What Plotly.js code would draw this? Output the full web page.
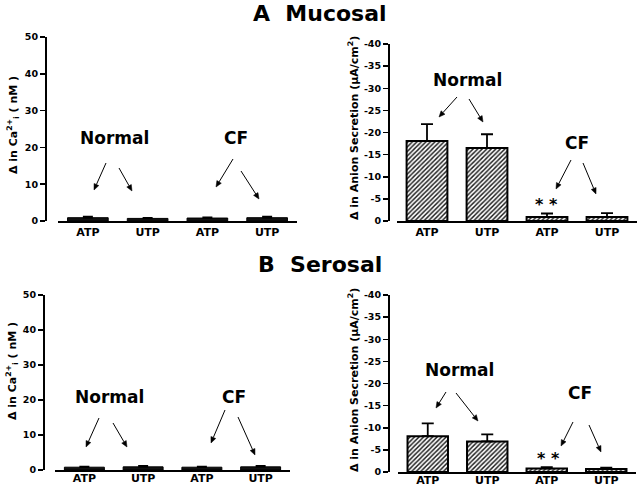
<!DOCTYPE html>
<html>
<head>
<meta charset="utf-8">
<script src="https://cdn.plot.ly/plotly-3.0.1.min.js"></script>
<style>html,body{margin:0;padding:0;background:#fff;}#chart{width:640px;height:488px;}</style>
</head>
<body>
<div id="chart"></div>
<script>
// ---- Data ----
const positions = [0, 1, 2, 3];
const tickLabels = ['ATP', 'UTP', 'ATP', 'UTP'];
const groups = ['Normal', 'Normal', 'CF', 'CF'];

// Change in intracellular Ca2+ (nM)
const caMucosal = [0.9, 0.7, 0.8, 0.9];
const caMucosalErr = [0.3, 0.2, 0.2, 0.3];
const caSerosal = [0.8, 0.9, 0.8, 0.9];
const caSerosalErr = [0.2, 0.3, 0.2, 0.3];

// Change in anion secretion (uA/cm2), negative currents
const iscMucosal = [-18.1, -16.5, -0.9, -0.9];
const iscMucosalErr = [3.8, 3.1, 0.8, 0.9];
const iscSerosal = [-8.1, -6.9, -0.8, -0.7];
const iscSerosalErr = [2.9, 1.6, 0.3, 0.3];

const caTicks = [0, 10, 20, 30, 40, 50];
const iscTicks = [0, -5, -10, -15, -20, -25, -30, -35, -40];
const iscTickText = ['0', '-5', '-10', '-15', '-20', '-25', '-30', '-35', '-40'];

// ---- helpers ----
const W = 640, H = 488;
const px = x => x / W;
const py = y => 1 - y / H;
const FONT = 'DejaVu Sans, Arial, sans-serif';

function caTrace(vals, errs, xa, ya) {
  return {
    type: 'bar', x: positions, y: vals, xaxis: xa, yaxis: ya, width: 0.68,
    marker: {color: '#111', line: {color: '#000', width: 1}},
    error_y: {type: 'data', symmetric: false, array: errs, arrayminus: errs.map(() => 0),
              color: '#000', thickness: 1.5, width: 5},
    hoverinfo: 'y', showlegend: false
  };
}
function iscTrace(vals, errs, xa, ya) {
  return {
    type: 'bar', x: positions, y: vals, xaxis: xa, yaxis: ya, width: 0.68,
    marker: {color: 'white', line: {color: '#000', width: 2},
             pattern: {shape: '/', fgcolor: '#1a1a1a', bgcolor: 'white', size: 3.2, solidity: 0.45}},
    error_y: {type: 'data', symmetric: false, array: errs.map(() => 0), arrayminus: errs,
              color: '#000', thickness: 1.8, width: 6},
    hoverinfo: 'y', showlegend: false
  };
}

const data = [
  caTrace(caMucosal, caMucosalErr, 'x', 'y'),
  iscTrace(iscMucosal, iscMucosalErr, 'x2', 'y2'),
  caTrace(caSerosal, caSerosalErr, 'x3', 'y3'),
  iscTrace(iscSerosal, iscSerosalErr, 'x4', 'y4')
];

function xAxis(domain, anchor, standoff) {
  return {
    domain: domain, anchor: anchor, range: [-0.5, 3.5],
    tickvals: positions, ticktext: tickLabels, ticks: '', showgrid: false, zeroline: false,
    showline: true, linecolor: '#000', linewidth: 2, ticklabelstandoff: standoff,
    tickfont: {family: FONT, size: 11, color: '#000', weight: 'bold'}, fixedrange: true
  };
}
function yAxis(domain, pos, range, tickvals, ticktext) {
  return {
    domain: domain, anchor: 'free', position: pos, range: range,
    tickvals: tickvals, ticktext: ticktext, ticks: 'outside', ticklen: 5, tickwidth: 1.5,
    tickcolor: '#000', showgrid: false, zeroline: false,
    showline: true, linecolor: '#000', linewidth: 1.5,
    tickfont: {family: FONT, size: 9.5, color: '#000', weight: 'bold'}, fixedrange: true
  };
}

const annotations = [];
const shapes = [];
function txt(t, x, y, size, angle) {
  annotations.push({xref: 'paper', yref: 'paper', x: px(x), y: py(y), text: t, showarrow: false,
    xanchor: 'center', yanchor: 'middle', textangle: angle || 0,
    font: {family: FONT, size: size, color: '#000', weight: 'bold'}});
}
function arrow(tx, ty, hx, hy) {
  const dx = hx - tx, dy = hy - ty, L = Math.hypot(dx, dy);
  const ux = dx / L, uy = dy / L;
  const hl = 6, hw = 2.6;
  const bx = hx - ux * hl, by = hy - uy * hl;
  shapes.push({type: 'line', xref: 'paper', yref: 'paper',
    x0: px(tx), y0: py(ty), x1: px(bx), y1: py(by), line: {color: '#000', width: 1}});
  const p1x = bx - uy * hw, p1y = by + ux * hw;
  const p2x = bx + uy * hw, p2y = by - ux * hw;
  shapes.push({type: 'path', xref: 'paper', yref: 'paper',
    path: `M ${px(hx)} ${py(hy)} L ${px(p1x)} ${py(p1y)} L ${px(p2x)} ${py(p2y)} Z`,
    fillcolor: '#000', line: {color: '#000', width: 0.5}});
}

// titles
txt('A  Mucosal', 320, 13, 22);
txt('B  Serosal', 320, 264, 22);

// y titles
const caTitle = 'Δ in Ca<sup>2+</sup><sub>i</sub> ( nM )';
const iscTitle = 'Δ in Anion Secretion (μA/cm<sup>2</sup>)';
txt(caTitle, 13, 125, 11, -90);
txt(caTitle, 12, 371, 11, -90);
txt(iscTitle, 353, 128, 11, -90);
txt(iscTitle, 353, 380, 11, -90);

// top-left
txt('Normal', 114, 138, 17); txt('CF', 236, 138, 17);
arrow(106, 163, 94, 190); arrow(119, 168, 132, 191);
arrow(233, 159, 216, 187); arrow(241, 171, 259, 199);
// top-right
txt('Normal', 467, 80, 17); txt('CF', 577, 143, 17);
arrow(457, 97, 439, 117); arrow(469, 99, 483, 122);
arrow(571, 160, 556, 189); arrow(583, 163, 596, 194);
txt('* *', 546, 204, 16);
// bottom-left
txt('Normal', 109, 397, 17); txt('CF', 234, 397, 17);
arrow(99, 418, 86, 447); arrow(113, 423, 127, 447);
arrow(225, 410, 211, 443); arrow(238, 417, 255, 455);
// bottom-right
txt('Normal', 459, 370, 17); txt('CF', 580, 393, 17);
arrow(446, 392, 436, 408); arrow(456, 393, 478, 421);
arrow(573, 422, 561, 446); arrow(589, 425, 601, 452);
txt('* *', 548, 458, 16);

const layout = {
  width: W, height: H, margin: {l: 0, r: 0, t: 0, b: 0},
  paper_bgcolor: '#fff', plot_bgcolor: 'rgba(0,0,0,0)', showlegend: false, bargap: 0,
  xaxis: xAxis([px(58), px(297)], 'y', 0),
  yaxis: yAxis([py(221), py(37)], px(45), [0, 50], caTicks, caTicks.map(String)),
  xaxis2: xAxis([px(397), px(637)], 'y2', 0),
  yaxis2: yAxis([py(221), py(44)], px(388), [0, -40], iscTicks, iscTickText),
  xaxis3: xAxis([px(55), px(290)], 'y3', -3),
  yaxis3: yAxis([py(470), py(295)], px(43), [0, 50], caTicks, caTicks.map(String)),
  xaxis4: xAxis([px(398), px(636)], 'y4', -3),
  yaxis4: yAxis([py(472), py(295)], px(388), [0, -40], iscTicks, iscTickText),
  annotations: annotations,
  shapes: shapes
};

Plotly.newPlot('chart', data, layout, {staticPlot: true});
</script>
</body>
</html>
